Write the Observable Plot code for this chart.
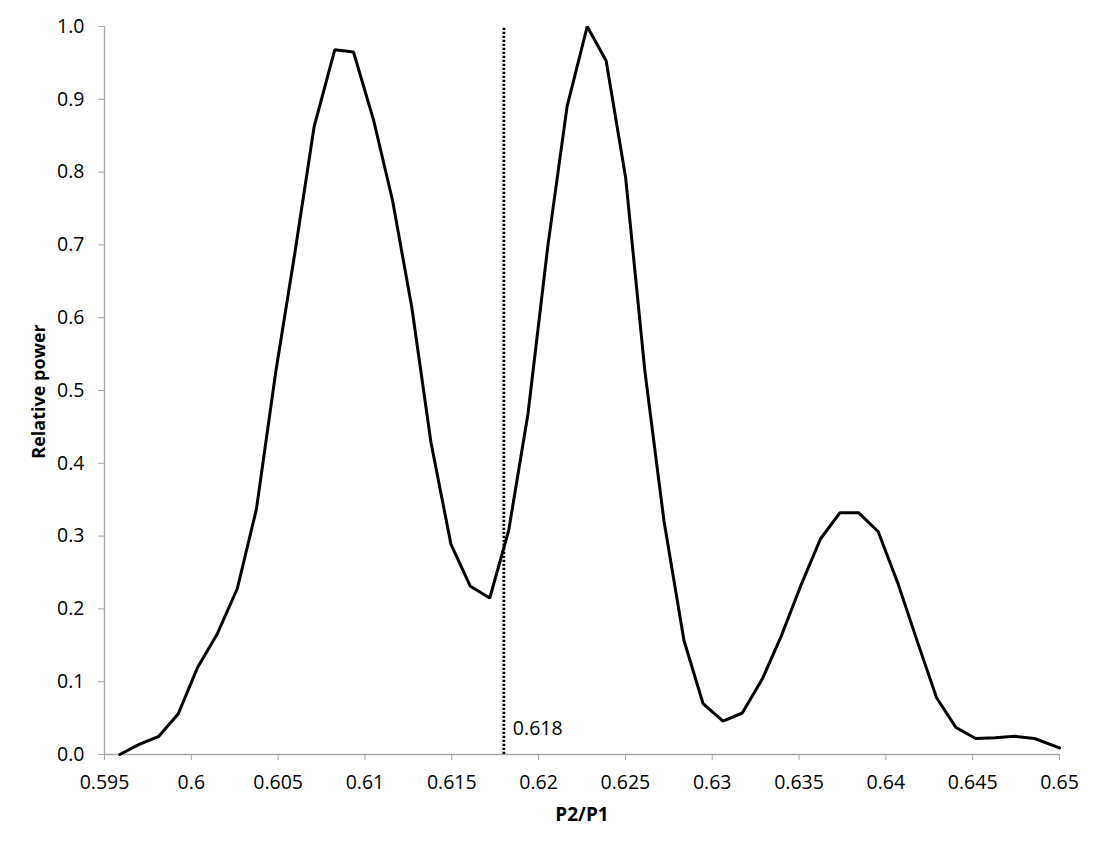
<!DOCTYPE html>
<html>
<head>
<meta charset="utf-8">
<script src="https://cdn.jsdelivr.net/npm/d3@7"></script>
<script src="https://cdn.jsdelivr.net/npm/@observablehq/plot@0.6"></script>
<style>
  html, body { margin: 0; padding: 0; background: #fff; }
  #chart svg { display: block; font-family: "Open Sans", sans-serif; }
  #chart g[aria-label="x-axis tick label"], #chart g[aria-label="y-axis tick label"] { font-size: 19.5px !important; }
</style>
</head>
<body>
<div id="chart"></div>
<script>
// Period ratio P2/P1 (x) and relative power (y)
const ratio = [
  0.59588, 0.59700, 0.59813, 0.59925, 0.60035, 0.60150, 0.60265, 0.60375,
  0.60486, 0.60597, 0.60707, 0.60826, 0.60934, 0.61050, 0.61159, 0.61270,
  0.61380, 0.61495, 0.61607, 0.61719, 0.61828, 0.61939, 0.62053, 0.62164,
  0.62280, 0.62389, 0.62501, 0.62612, 0.62722, 0.62837, 0.62947, 0.63062,
  0.63173, 0.63289, 0.63398, 0.63510, 0.63623, 0.63735, 0.63844, 0.63956,
  0.64071, 0.64183, 0.64292, 0.64404, 0.64517, 0.64629, 0.64744, 0.64856,
  0.65000
];
const power = [
  0.000, 0.014, 0.025, 0.056, 0.119, 0.166, 0.228, 0.337,
  0.525, 0.690, 0.862, 0.968, 0.965, 0.871, 0.761, 0.614,
  0.429, 0.289, 0.231, 0.215, 0.308, 0.468, 0.698, 0.890,
  1.000, 0.953, 0.793, 0.527, 0.321, 0.157, 0.070, 0.046,
  0.057, 0.104, 0.163, 0.232, 0.296, 0.332, 0.332, 0.306,
  0.234, 0.154, 0.078, 0.037, 0.022, 0.023, 0.025, 0.022,
  0.009
];
const xTicks = [0.595, 0.6, 0.605, 0.61, 0.615, 0.62, 0.625, 0.63, 0.635, 0.64, 0.645, 0.65];
const yTicks = [0, 0.1, 0.2, 0.3, 0.4, 0.5, 0.6, 0.7, 0.8, 0.9, 1.0];
const markerValue = [0.618];
const markerLabel = ["0.618"];
const xTitle = "P2/P1";
const yTitle = "Relative power";

const data = ratio.map((r, i) => ({r, p: power[i]}));
const FONT = "'Open Sans', sans-serif";
const GRAY = "#a6a6a6";

const chart = Plot.plot({
  width: 1100,
  height: 850,
  marginLeft: 104,
  marginRight: 41,
  marginTop: 26,
  marginBottom: 96,
  style: {fontFamily: FONT, fontSize: "19.5px", color: "black", background: "white"},
  x: {domain: [0.595, 0.65]},
  y: {domain: [0, 1]},
  marks: [
    Plot.axisX({ticks: xTicks, tickFormat: d => String(+d.toFixed(3)), tickSize: 6, tickPadding: 15,
      stroke: GRAY, fill: "black", label: null, fontSize: 19.5}),
    Plot.axisY({ticks: yTicks, tickFormat: d3.format(".1f"), tickSize: 6, tickPadding: 14,
      stroke: GRAY, fill: "black", label: null, fontSize: 19.5}),
    Plot.ruleY([0], {stroke: GRAY, strokeWidth: 1.3}),
    Plot.ruleX([0.595], {stroke: GRAY, strokeWidth: 1.3}),
    Plot.ruleX(markerValue, {y1: 0, y2: 1, stroke: "black", strokeWidth: 2.8, strokeDasharray: "2.2,1.8"}),
    Plot.text(markerValue, {x: d => d, y: 0, text: (d, i) => markerLabel[i], textAnchor: "start",
      dx: 9, dy: -26, fontSize: 19.5, fill: "black"}),
    Plot.line(data, {x: "r", y: "p", stroke: "black", strokeWidth: 3, strokeLinejoin: "miter", curve: "linear"}),
    Plot.text([xTitle], {frameAnchor: "bottom", textAnchor: "middle", lineAnchor: "middle", dy: 60,
      fontWeight: "bold", fontSize: 19, fill: "black"}),
    Plot.text([yTitle], {frameAnchor: "left", textAnchor: "middle", lineAnchor: "middle", dx: -65, dy: 1,
      rotate: -90, fontWeight: "bold", fontSize: 18, fill: "black"})
  ]
});
document.getElementById("chart").append(chart);
</script>
</body>
</html>
